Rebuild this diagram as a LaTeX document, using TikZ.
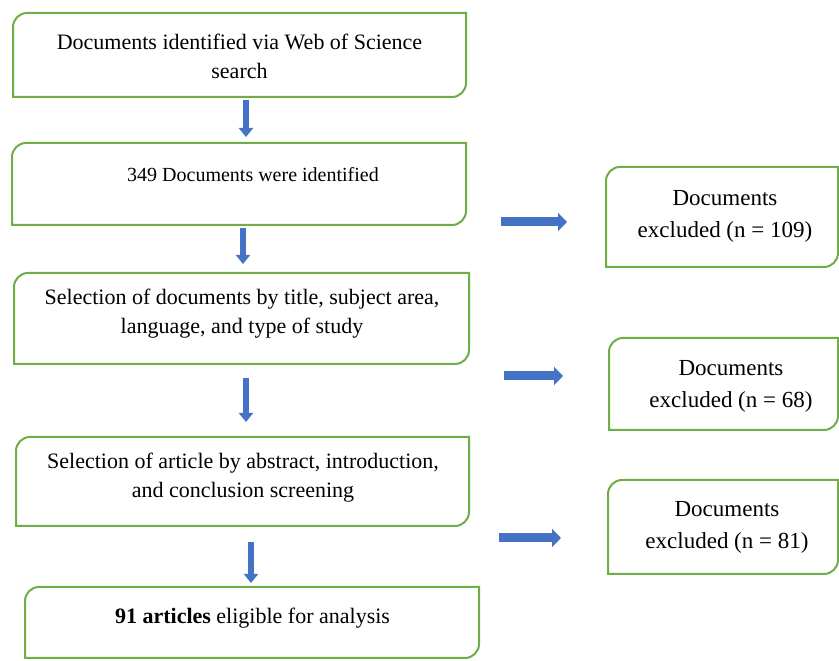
\documentclass[tikz,border=0pt]{standalone}
\usepackage{fontspec}
\setmainfont{Liberation Serif}
\usetikzlibrary{arrows.meta}
\definecolor{gborder}{HTML}{70AD47}
\definecolor{ablue}{HTML}{4472C4}
\definecolor{dblue}{HTML}{2F528F}
\newcommand\snipoutline[1]{%
  \draw[gline] ([xshift=14pt]#1.north west) -- (#1.north east) -- ([yshift=14pt]#1.south east)
    arc[start angle=0,end angle=-90,radius=14pt] -- (#1.south west) -- ([yshift=-14pt]#1.north west)
    arc[start angle=180,end angle=90,radius=14pt] -- cycle;}
\tikzset{
  gline/.style={draw=gborder, line width=2pt},
  boxarea/.style={rectangle, inner sep=0pt, outer sep=0pt},
  ltxt/.style={align=center, inner sep=0pt, font=\fontsize{22}{29}\selectfont},
  rtxt/.style={align=center, inner sep=0pt, font=\fontsize{23}{32}\selectfont},
  darr/.style={draw=ablue, line width=6pt, -{Triangle[width=14pt,length=9pt]}},
  rarr/.style={draw=ablue, line width=9pt, -{Triangle[width=18pt,length=9pt]}},
}
\begin{document}
\begin{tikzpicture}[x=1pt,y=1pt]
\useasboundingbox (0,0) rectangle (839,661);
% left boxes
\node[boxarea, minimum width=453pt, minimum height=84pt] (b1) at (239.5,606) {};
\node[boxarea, minimum width=454pt, minimum height=82pt] (b2) at (239,477) {};
\node[boxarea, minimum width=455pt, minimum height=91pt] (b3) at (241.5,342.5) {};
\node[boxarea, minimum width=453pt, minimum height=89pt] (b4) at (242.5,179.5) {};
\node[boxarea, minimum width=454pt, minimum height=71pt] (b5) at (252,38.5) {};
% right boxes
\node[boxarea, minimum width=232pt, minimum height=100pt] (r1) at (722,444) {};
\node[boxarea, minimum width=229pt, minimum height=92pt] (r2) at (723.5,277) {};
\node[boxarea, minimum width=230pt, minimum height=94pt] (r3) at (723,134) {};
\foreach \n in {b1,b2,b3,b4,b5,r1,r2,r3} {\snipoutline{\n}}
% texts
\node[ltxt] (t1) at (239.5,605) {Documents identified via Web of Science\\search};
\node[ltxt, font=\fontsize{20}{26}\selectfont] (t2) at (253,486) {349 Documents were identified};
\node[ltxt] (t3) at (242,347) {Selection of documents by title, subject area,\\language, and type of study};
\node[ltxt] (t4) at (243,183.5) {Selection of article by abstract, introduction,\\and conclusion screening};
\node[ltxt] (t5) at (252.5,43) {\textbf{91 articles} eligible for analysis};
\node[rtxt] (u1) at (725,445) {Documents\\excluded (n = 109)};
\node[rtxt] (u2) at (731,275) {Documents\\excluded (n = 68)};
\node[rtxt] (u3) at (727,133.5) {Documents\\excluded (n = 81)};
% arrow guide coordinates
\coordinate (x1) at (246,0);
\coordinate (x2) at (243,0);
\coordinate (x3) at (246,0);
\coordinate (x4) at (251,0);
\coordinate (y1) at (0,439);
\coordinate (y2) at (0,285);
\coordinate (y3) at (0,123);
% down arrows
\draw[darr, shorten <=3pt, shorten >=6pt] (b1.south -| x1) -- (b2.north -| x1);
\draw[darr, shorten <=3pt, shorten >=9pt] (b2.south -| x2) -- (b3.north -| x2);
\draw[darr, shorten <=14pt, shorten >=15pt] (b3.south -| x3) -- (b4.north -| x3);
\draw[darr, shorten <=16pt, shorten >=4pt] (b4.south -| x4) -- (b5.north -| x4);
% right arrows
\draw[rarr, shorten <=35pt, shorten >=39pt] (b2.east |- y1) -- (r1.west |- y1);
\draw[rarr, shorten <=35pt, shorten >=46pt] (b3.east |- y2) -- (r2.west |- y2);
\draw[rarr, shorten <=30pt, shorten >=47pt] (b4.east |- y3) -- (r3.west |- y3);
\end{tikzpicture}
\end{document}
